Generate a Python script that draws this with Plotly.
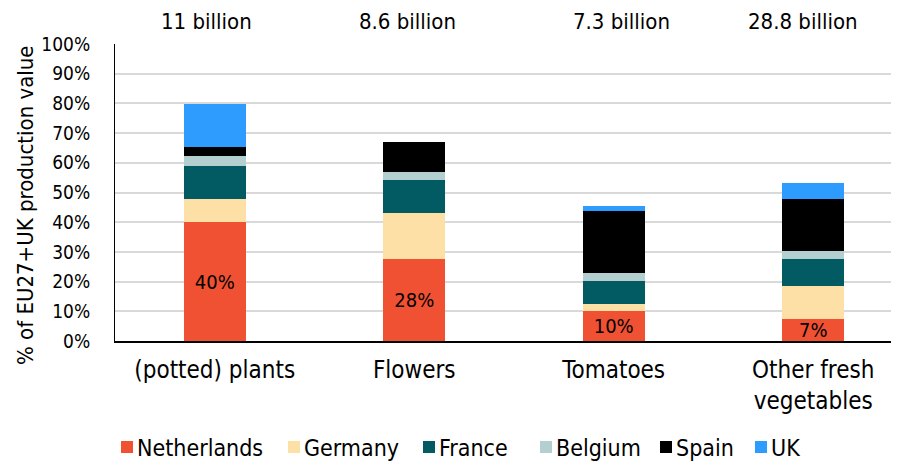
import plotly.graph_objects as go

categories = ["(potted) plants", "Flowers", "Tomatoes", "Other fresh<br>vegetables"]
totals = ["11 billion", "8.6 billion", "7.3 billion", "28.8 billion"]
total_x = [-0.04, 0.967, 2.04, 2.95]

netherlands = [40.0, 27.6, 10.1, 7.3]
germany = [7.8, 15.6, 2.5, 11.2]
france = [11.1, 11.0, 7.7, 9.2]
belgium = [3.3, 2.8, 2.7, 2.5]
spain = [3.1, 9.9, 20.9, 17.6]
uk = [14.5, 0.0, 1.5, 5.3]

series = [
    ("Netherlands", netherlands, "#F05133"),
    ("Germany", germany, "#FDE0A5"),
    ("France", france, "#025A62"),
    ("Belgium", belgium, "#B4CFCF"),
    ("Spain", spain, "#000000"),
    ("UK", uk, "#2E9BFF"),
]

y_title = "% of EU27+UK production value"

FONT = "DejaVu Sans Condensed, DejaVu Sans, sans-serif"

# plot area in screen pixels (page has an 8px body margin)
PL, PR, PT, PB = 115, 899, 44, 341
PW, PH = PR - PL, PB - PT

def px2paper_x(px):
    return (px - PL) / PW

def px2paper_y(py):
    return (PB - py) / PH

fig = go.Figure()
for name, vals, color in series:
    kw = {}
    if name == "Netherlands":
        kw = dict(text=[f"{round(v)}%" for v in vals], textposition="inside",
                  insidetextanchor="middle", constraintext="none",
                  textfont=dict(color="black", size=20, family=FONT))
    fig.add_trace(go.Bar(x=list(range(len(categories))), y=vals, name=name,
                         marker=dict(color=color, line=dict(width=0)),
                         width=0.31, hoverinfo="skip", showlegend=False, **kw))

for t, xp in zip(totals, total_x):
    fig.add_annotation(x=xp, y=px2paper_y(22), xref="x", yref="paper", yanchor="middle",
                       text=t, showarrow=False,
                       font=dict(size=22, color="black", family=FONT))

# y-axis title
fig.add_annotation(x=px2paper_x(25), y=px2paper_y(205), xref="paper", yref="paper",
                   xanchor="center", yanchor="middle", textangle=-90, text=y_title,
                   showarrow=False, font=dict(size=22, color="black", family=FONT))

# custom legend (compact, like the original)
legend_px = [121, 288, 423, 540, 660, 755]
for (name, vals, color), lx in zip(series, legend_px):
    fig.add_shape(type="rect", xref="paper", yref="paper",
                  x0=px2paper_x(lx), x1=px2paper_x(lx + 12),
                  y0=px2paper_y(453), y1=px2paper_y(441),
                  fillcolor=color, line=dict(width=0))
    fig.add_annotation(x=px2paper_x(lx + 14), y=px2paper_y(448), xref="paper", yref="paper",
                       xanchor="left", yanchor="middle", text=name, showarrow=False,
                       font=dict(size=23, color="black", family=FONT))

fig.update_layout(
    barmode="stack",
    width=899, height=461,
    margin=dict(l=PL - 8, r=8, t=PT - 8, b=461 - (PB - 8)),
    plot_bgcolor="white", paper_bgcolor="white",
    font=dict(family=FONT, color="black", size=19),
    showlegend=False,
    xaxis=dict(tickmode="array", tickvals=list(range(len(categories))),
               ticktext=categories, range=[-0.5, 3.43],
               tickfont=dict(size=24), showline=True, linecolor="black",
               linewidth=2, ticks="outside", ticklen=6, tickcolor="rgba(0,0,0,0)",
               showgrid=False, fixedrange=True),
    yaxis=dict(range=[0, 100], dtick=10, ticksuffix="%",
               showgrid=True, gridcolor="#D9D9D9", gridwidth=2,
               showline=True, linecolor="black", linewidth=1,
               ticks="outside", ticklen=20, tickcolor="rgba(0,0,0,0)",
               zeroline=False, tickfont=dict(size=19)),
)

fig.write_html("out.html")
